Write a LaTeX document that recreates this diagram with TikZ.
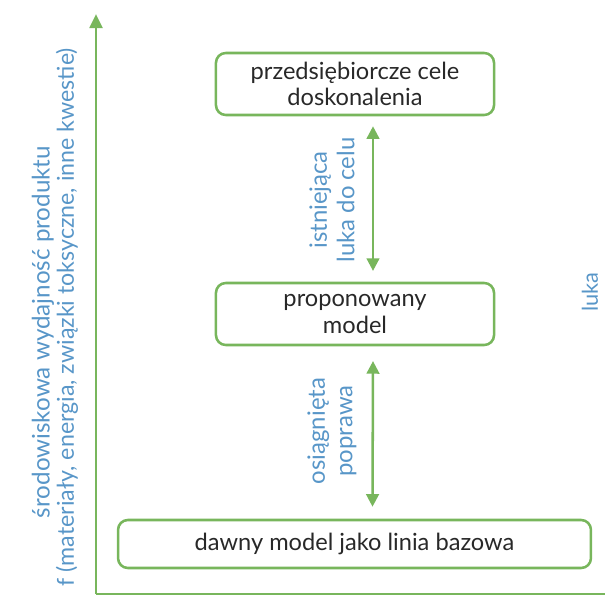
\documentclass[tikz,border=0pt]{standalone}
\usepackage{fontspec}
\setmainfont{Lato}
\usepackage{tikz}
\usetikzlibrary{arrows.meta, positioning}
\definecolor{AxisGreen}{RGB}{120, 182, 92}
\definecolor{LabelBlue}{RGB}{88, 150, 200}
\definecolor{BoxText}{RGB}{40, 40, 40}

\tikzset{
  levelbox/.style={
    draw=AxisGreen,
    line width=1.8pt,
    rounded corners=7pt,
    align=center,
    text=BoxText,
    inner sep=0pt,
    font=\fontsize{16.8}{18.5}\selectfont
  },
  gaparrow/.style={
    AxisGreen,
    line width=1.8pt,
    {Triangle[length=9pt, width=9pt]}-{Triangle[length=9pt, width=9pt]}
  },
  gaplabel/.style={
    text=LabelBlue,
    rotate=90,
    align=center,
    font=\fontsize{17}{19.5}\selectfont
  },
  axislabel/.style={
    text=LabelBlue,
    rotate=90,
    font=\fontsize{16.5}{18}\selectfont
  },
  axisline/.style={AxisGreen, line width=2.1pt}
}

\begin{document}
\begin{tikzpicture}[x=0.025cm, y=-0.025cm]
    \useasboundingbox (0,0) rectangle (605,597);
    % axes
    \coordinate (origin) at (96,594);
    \coordinate (ytop) at (96,14);
    \coordinate (xend) at (620,594);
    \draw[axisline, -{Triangle[length=10pt, width=9pt]}] (origin) -- (ytop);
    \draw[axisline] (origin) -- (xend);
    \node[axislabel, font=\fontsize{17.2}{18}\selectfont] (ylabA) at (43,332) {środowiskowa wydajność produktu};
    \node[axislabel, anchor=east] (ylabB) at (67,43) {f (materiały, energia, związki toksyczne, inne kwestie)};

    % levels
    \node[levelbox, minimum width=6.95cm, minimum height=1.55cm] (goal) at (355,84)
      {przedsiębiorcze cele\\doskonalenia};
    \node[levelbox, minimum width=6.95cm, minimum height=1.55cm] (model) at (355,314)
      {proponowany\\model};
    \node[levelbox, minimum width=11.82cm, minimum height=1.2cm] (base) at (354.5,544)
      {dawny model jako linia bazowa};

    % gaps
    \draw[gaparrow] ([xshift=0.45cm, yshift=-0.25cm]goal.south) -- ([xshift=0.45cm, yshift=0.27cm]model.north);
    \draw[gaparrow] ([xshift=0.45cm, yshift=-0.37cm]model.south) -- ([xshift=0.45cm, yshift=0.3cm]base.north);
    \node[gaplabel] (gapA) at (332,200) {istniejąca\\luka do celu};
    \node[gaplabel] (gapB) at (332,431) {osiągnięta\\poprawa};
    \node[gaplabel, font=\fontsize{15.5}{18}\selectfont, anchor=south] (gapC) at (603,292) {luka};
  \end{tikzpicture}
\end{document}
